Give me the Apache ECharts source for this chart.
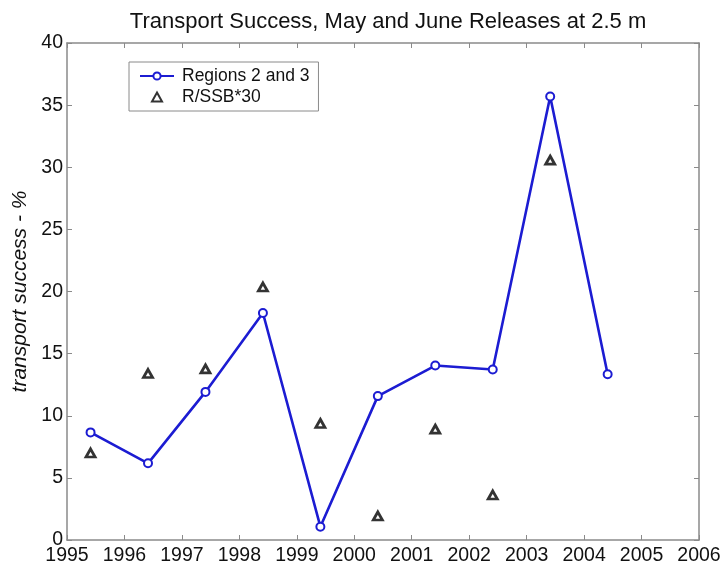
<!DOCTYPE html>
<html lang="en">
<head>
<meta charset="UTF-8">
<script src="https://cdn.jsdelivr.net/npm/echarts@6/dist/echarts.min.js"></script>
<title>Transport Success</title>
<style>
    html, body { margin: 0; padding: 0; background: #fff; }
    #chart { width: 721px; height: 568px; }
</style>
</head>
<body>
<div id="chart"></div>
<script>
// release dates (fractional year) and values
const years = [1995.41, 1996.41, 1997.41, 1998.41, 1999.41, 2000.41, 2001.41, 2002.41, 2003.41, 2004.41];
const regions23 = [8.66, 6.17, 11.92, 18.27, 1.07, 11.58, 14.04, 13.72, 35.7, 13.34];
const ssbYears = [1995.41, 1996.41, 1997.41, 1998.41, 1999.41, 2000.41, 2001.41, 2002.41, 2003.41];
const rssb30 = [7.0, 13.4, 13.77, 20.36, 9.38, 1.93, 8.92, 3.62, 30.57];

const fontName = '"Liberation Sans", Arial, sans-serif';
const axisGrey = '#8a8a8a';
const blue = '#1c1cd2';
// small triangle for the legend (a path keeps its aspect, a built-in symbol gets stretched)
const triIcon = 'path://M5,0 L10,9 L0,9 Z';

const chart = echarts.init(document.getElementById('chart'));

// axis helpers: the box has ticks on all four sides, pointing inwards
function boxAxis(pos, isX, showLabels) {
    const ax = {
        type: 'value',
        position: pos,
        min: isX ? 1995 : 0,
        max: isX ? 2006 : 40,
        interval: isX ? 1 : 5,
        axisLine: { show: true, onZero: false, lineStyle: { color: axisGrey, width: 1.5 } },
        axisTick: { show: true, inside: true, length: 5, lineStyle: { color: axisGrey, width: 1 } },
        splitLine: { show: false },
        axisLabel: {
            show: showLabels,
            color: '#111',
            fontFamily: fontName,
            fontSize: 19.5,
            margin: isX ? 6 : 4
        }
    };
    return ax;
}

const xBottom = boxAxis('bottom', true, true);
xBottom.axisLabel.formatter = v => String(v);
const xTop = boxAxis('top', true, false);
const yLeft = boxAxis('left', false, true);
yLeft.name = 'transport success - %';
yLeft.nameLocation = 'middle';
yLeft.nameGap = 32;
yLeft.nameTextStyle = { fontFamily: fontName, fontSize: 21, fontStyle: 'italic', color: '#111' };
const yRight = boxAxis('right', false, false);

const option = {
    backgroundColor: '#fff',
    animation: false,
    title: {
        text: 'Transport Success, May and June Releases at 2.5 m',
        left: 383,
        textAlign: 'center',
        top: 6,
        textStyle: { fontFamily: fontName, fontSize: 22, fontWeight: 'normal', color: '#111' }
    },
    grid: { left: 67, right: 22, top: 43, bottom: 28, containLabel: false, outerBoundsMode: 'none' },
    legend: {
        orient: 'vertical',
        left: 129,
        top: 62,
        padding: [5, 9, 5, 10],
        itemGap: 3,
        itemWidth: 34,
        itemHeight: 9,
        borderColor: '#8a8a8a',
        borderWidth: 1,
        textStyle: { fontFamily: fontName, fontSize: 17.5, color: '#111', padding: [0, 0, 0, 3] },
        data: ['Regions 2 and 3', { name: 'R/SSB*30', icon: triIcon }]
    },
    xAxis: [xBottom, xTop],
    yAxis: [yLeft, yRight],
    series: [
        {
            name: 'Regions 2 and 3',
            type: 'line',
            data: years.map((y, i) => [y, regions23[i]]),
            symbol: 'circle',
            symbolSize: 8,
            showAllSymbol: true,
            lineStyle: { color: blue, width: 2.6 },
            itemStyle: { color: '#fff', borderColor: blue, borderWidth: 2 },
            z: 3
        },
        {
            name: 'R/SSB*30',
            type: 'scatter',
            data: ssbYears.map((y, i) => [y, rssb30[i]]),
            symbol: 'triangle',
            symbolSize: [9, 8],
            itemStyle: { color: '#fff', borderColor: '#000', borderWidth: 2.8 },
            z: 4
        }
    ]
};

chart.setOption(option);
</script>
</body>
</html>
